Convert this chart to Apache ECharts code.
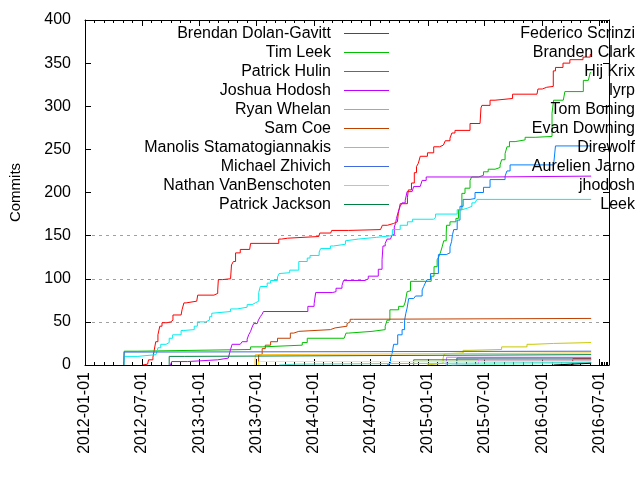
<!DOCTYPE html>
<html>
<head>
<meta charset="utf-8">
<script src="https://cdn.jsdelivr.net/npm/echarts@6/dist/echarts.min.js"></script>
<style>html,body{margin:0;padding:0;background:#fff;}#c{width:640px;height:480px;}</style>
</head>
<body>
<div id="c"></div>
<script>
const names = ['Brendan Dolan-Gavitt','Tim Leek','Patrick Hulin','Joshua Hodosh','Ryan Whelan','Sam Coe','Manolis Stamatogiannakis','Michael Zhivich','Nathan VanBenschoten','Patrick Jackson','Federico Scrinzi','Branden Clark','Hij Krix','lyrp','Tom Boning','Evan Downing','Direwolf','Aurelien Jarno','jhodosh','Leek'];
const palette = ['#ff0000','#00c000','#0080ff','#c000ff','#00eeee','#c04000','#c8c800','#4169e1','#ffc020','#008040','#c080ff','#306080','#8b0000','#408000','#ff80ff','#7fffd4','#a52a2a','#ffff00','#40e0d0','#000000'];
const yTicks = [0,50,100,150,200,250,300,350,400];

const brendan = [['2012-07-03',0],['2012-07-05',1],['2012-07-19',3],['2012-07-22',6],['2012-08-05',9],['2012-08-08',15],['2012-08-14',27],['2012-08-21',35],['2012-08-27',45],['2012-09-03',49],['2012-09-19',50],['2012-10-01',52],['2012-10-08',58],['2012-11-03',60],['2012-11-06',64],['2012-11-12',72],['2012-11-19',74],['2012-12-23',75],['2012-12-26',81],['2013-02-16',83],['2013-02-28',87],['2013-03-02',99],['2013-03-15',100],['2013-04-10',102],['2013-04-13',116],['2013-04-19',120],['2013-04-26',130],['2013-05-11',134],['2013-06-10',135],['2013-06-13',141],['2013-09-11',146],['2013-09-20',147],['2013-10-09',149],['2014-01-17',150],['2014-01-20',153],['2014-02-24',155],['2014-02-27',156],['2014-04-21',157],['2014-08-02',159],['2014-08-08',162],['2014-08-24',164],['2014-09-12',166],['2014-09-25',168],['2014-09-28',176],['2014-10-04',187],['2014-10-27',194],['2014-10-30',203],['2014-11-09',211],['2014-11-18',223],['2014-11-25',230],['2014-12-01',234],['2014-12-07',242],['2014-12-30',246],['2015-01-19',253],['2015-02-07',255],['2015-02-19',257],['2015-02-25',260],['2015-03-12',263],['2015-03-18',269],['2015-03-28',272],['2015-05-15',280],['2015-06-16',281],['2015-06-19',298],['2015-06-22',301],['2015-07-18',307],['2015-08-03',309],['2015-09-28',314],['2015-12-15',315],['2015-12-18',320],['2016-01-01',322],['2016-01-15',323],['2016-02-05',341],['2016-02-12',345],['2016-03-07',350],['2016-03-29',354],['2016-05-10',357],['2016-06-02',360],['2016-06-05',360]];
const timLeek = [['2012-05-04',0],['2012-05-05',16],['2012-06-18',18],['2013-06-13',21],['2013-07-20',23],['2013-11-25',26],['2013-12-11',31],['2014-04-08',33],['2014-04-14',37],['2014-04-22',39],['2014-07-06',41],['2014-08-17',45],['2014-08-23',52],['2014-09-01',64],['2014-09-29',68],['2014-10-15',70],['2014-10-20',73],['2014-10-26',85],['2014-10-31',86],['2014-11-06',97],['2015-01-11',103],['2015-01-20',114],['2015-01-30',122],['2015-02-05',126],['2015-02-10',131],['2015-02-15',137],['2015-02-20',144],['2015-02-28',153],['2015-03-01',162],['2015-03-12',166],['2015-03-31',170],['2015-04-08',180],['2015-04-19',199],['2015-04-29',205],['2015-05-15',214],['2015-05-20',218],['2015-06-11',220],['2015-06-27',224],['2015-07-12',227],['2015-08-03',229],['2015-08-19',232],['2015-08-24',238],['2015-09-04',245],['2015-09-10',253],['2015-09-18',259],['2015-10-06',261],['2015-11-07',264],['2015-12-09',265],['2016-02-01',292],['2016-02-06',307],['2016-03-08',309],['2016-03-13',317],['2016-05-11',330],['2016-05-27',332],['2016-06-02',339],['2016-06-05',339]];
const patrickHulin = [['2014-08-23',0],['2014-08-24',2],['2014-09-03',8],['2014-09-08',13],['2014-09-13',24],['2014-09-26',35],['2014-10-10',41],['2014-10-18',52],['2014-10-22',60],['2014-10-26',66],['2014-10-31',77],['2014-11-16',78],['2014-11-22',80],['2014-12-13',87],['2014-12-18',91],['2014-12-23',95],['2014-12-29',99],['2015-01-09',106],['2015-02-03',128],['2015-02-28',130],['2015-03-12',137],['2015-03-17',143],['2015-03-20',151],['2015-03-24',157],['2015-04-04',168],['2015-04-13',184],['2015-04-23',192],['2015-05-15',193],['2015-05-31',200],['2015-06-27',206],['2015-07-18',215],['2015-09-04',219],['2015-09-10',225],['2015-09-20',232],['2016-02-06',233],['2016-02-12',254],['2016-06-05',254]];
const joshuaHodosh = [['2012-09-30',0],['2012-10-01',1],['2012-10-04',4],['2012-11-24',6],['2013-02-28',8],['2013-04-03',9],['2013-04-07',14],['2013-04-10',18],['2013-04-15',24],['2013-05-11',25],['2013-05-17',27],['2013-06-02',30],['2013-06-07',35],['2013-06-13',39],['2013-06-18',44],['2013-06-23',48],['2013-07-04',50],['2013-07-08',52],['2013-07-14',56],['2013-07-20',59],['2013-07-24',62],['2013-12-13',68],['2014-01-02',71],['2014-01-07',84],['2014-03-01',85],['2014-03-13',89],['2014-04-01',92],['2014-04-06',98],['2014-06-14',100],['2014-06-24',103],['2014-07-26',111],['2014-08-07',122],['2014-08-10',138],['2014-08-17',141],['2014-08-23',146],['2014-09-03',147],['2014-09-08',151],['2014-09-15',160],['2014-09-19',164],['2014-09-22',170],['2014-09-28',178],['2014-10-04',184],['2014-10-10',188],['2014-10-20',191],['2014-10-26',201],['2014-11-11',203],['2014-11-16',207],['2014-12-07',209],['2014-12-13',214],['2014-12-26',218],['2015-07-27',219],['2016-06-05',219]];
const ryanWhelan = [['2012-05-04',0],['2012-05-05',10],['2012-06-18',12],['2012-08-15',14],['2012-08-21',20],['2012-08-30',24],['2012-09-16',26],['2012-09-26',31],['2012-10-07',35],['2012-11-03',40],['2012-11-10',41],['2012-12-15',45],['2012-12-25',50],['2013-01-20',52],['2013-02-02',56],['2013-02-09',60],['2013-02-12',62],['2013-04-10',65],['2013-05-01',67],['2013-06-02',70],['2013-06-18',72],['2013-06-28',74],['2013-07-09',84],['2013-07-14',91],['2013-08-05',95],['2013-08-16',98],['2013-09-07',102],['2013-09-12',106],['2013-09-17',107],['2013-10-16',110],['2013-11-14',120],['2013-12-11',124],['2013-12-20',127],['2014-01-18',131],['2014-01-23',135],['2014-02-23',138],['2014-03-05',140],['2014-04-12',144],['2014-04-17',146],['2014-05-23',148],['2014-07-20',150],['2014-09-09',157],['2014-10-04',162],['2014-10-27',166],['2014-11-12',169],['2015-01-18',171],['2015-01-25',175],['2015-04-04',180],['2015-04-19',182],['2015-05-08',184],['2015-05-21',188],['2015-05-31',189],['2015-06-06',192],['2016-06-05',192]];
const samCoe = [['2013-07-08',0],['2013-07-09',12],['2013-07-20',19],['2013-07-30',23],['2013-08-16',27],['2013-09-07',31],['2013-10-18',37],['2013-10-29',39],['2013-11-14',41],['2014-02-23',43],['2014-03-10',45],['2014-04-17',48],['2014-04-22',50],['2014-04-27',53],['2014-05-08',54],['2016-06-05',54]];
const manolis = [['2014-12-28',0],['2014-12-29',2],['2015-02-18',8],['2015-02-22',13],['2015-02-25',14],['2015-04-23',17],['2015-05-15',18],['2015-08-24',21],['2015-11-13',24],['2015-12-02',25],['2016-02-06',26],['2016-06-05',26]];
const michaelZhivich = [['2012-05-04',0],['2012-05-05',15],['2012-06-15',16],['2016-06-05',16]];
const nathan = [['2013-06-27',0],['2013-06-27',2],['2013-06-28',12],['2013-07-08',14],['2016-06-05',14]];
const patrickJackson = [['2012-09-26',0],['2012-09-26',10],['2012-11-13',12],['2016-06-05',12]];
const federico = [['2015-02-28',0],['2015-03-01',9],['2016-06-05',9]];
const brandenClark = [['2015-04-03',0],['2015-04-03',8],['2016-06-05',8]];
const hijKrix = [['2016-04-07',0],['2016-04-07',7],['2016-06-05',7]];
const lyrp = [['2014-11-16',0],['2014-11-16',6],['2016-06-05',6]];
const tomBoning = [['2015-03-17',0],['2015-03-17',1],['2015-06-11',6],['2016-06-05',6]];
const evanDowning = [['2015-02-27',0],['2015-02-27',2],['2016-06-05',2]];
const direwolf = [['2016-04-07',0],['2016-04-08',3],['2016-06-05',3]];
const aurelien = [['2013-07-08',0],['2013-07-09',4],['2016-06-05',4]];
const jhodosh = [['2013-09-12',0],['2013-09-12',1],['2013-11-08',3],['2016-06-05',3]];
const leek = [['2016-02-06',0],['2016-02-06',2],['2016-06-05',2]];

const seriesData = [brendan,timLeek,patrickHulin,joshuaHodosh,ryanWhelan,samCoe,manolis,michaelZhivich,nathan,patrickJackson,federico,brandenClark,hijKrix,lyrp,tomBoning,evanDowning,direwolf,aurelien,jhodosh,leek];

const FONT = 'Liberation Sans';
const gridColors = yTicks.map(v => (v >= 50 && v <= 150) ? '#a0a0a0' : 'rgba(0,0,0,0)');
const DAY = 86400000;

const chart = echarts.init(document.getElementById('c'), null, {renderer:'canvas'});
const legendCommon = {
  orient:'vertical', align:'right', itemWidth:45, itemHeight:19, itemGap:0, padding:0,
  selectedMode:false, icon:'path://M0,9L45,9L45,10L0,10Z',
  textStyle:{fontFamily:FONT, fontSize:16, color:'#000', lineHeight:19, padding:[0,8,0,0]}
};
const timeAxisCommon = {
  type:'time', min:'2012-01-01', max:'2016-08-01',
  minInterval: 180*DAY, maxInterval: 184*DAY,
  axisLine:{show:true, onZero:false, lineStyle:{color:'#000', width:1}},
  axisTick:{show:true, inside:true, length:6, lineStyle:{color:'#000'}},
  minorTick:{show:true, splitNumber:6, length:3, lineStyle:{color:'#000'}},
  splitLine:{show:false}, minorSplitLine:{show:false}
};
const option = {
  animation:false,
  backgroundColor:'#fff',
  grid:{left:84, right:31, top:20, bottom:115, containLabel:false},
  legend:[
    Object.assign({}, legendCommon, {data:names.slice(0,10).map((n,i)=>({name:n, itemStyle:{color:palette[i]}})), right:251, top:24}),
    Object.assign({}, legendCommon, {data:names.slice(10).map((n,i)=>({name:n, itemStyle:{color:palette[i+10]}})), right:-53, top:24})
  ],
  xAxis:[
    Object.assign({}, timeAxisCommon, {position:'bottom',
      axisLabel:{show:true, rotate:90, formatter:'{yyyy}-{MM}-{dd}', fontFamily:FONT, fontSize:16, color:'#000', margin:7, hideOverlap:false, showMinLabel:true, showMaxLabel:false}}),
    Object.assign({}, timeAxisCommon, {position:'top', axisLabel:{show:false}})
  ],
  yAxis:[
    {type:'value', position:'left', min:0, max:400, interval:50,
      name:'Commits', nameLocation:'middle', nameGap:62, nameRotate:90,
      nameTextStyle:{fontFamily:FONT, fontSize:15, color:'#000'},
      axisLine:{show:true, lineStyle:{color:'#000'}},
      axisTick:{show:true, inside:true, length:6, lineStyle:{color:'#000'}},
      axisLabel:{fontFamily:FONT, fontSize:16, color:'#000', margin:14},
      splitLine:{show:true, lineStyle:{color:gridColors, type:[3,4], width:1}}},
    {type:'value', position:'right', min:0, max:400, interval:50,
      axisLine:{show:true, lineStyle:{color:'#000'}},
      axisTick:{show:true, inside:true, length:6, lineStyle:{color:'#000'}},
      axisLabel:{show:false}, splitLine:{show:false}}
  ],
  series: names.map((n,i)=>({
    name:n, type:'line', step:'end', symbol:'none', showSymbol:false,
    xAxisIndex:0, yAxisIndex:0,
    data:seriesData[i],
    color:palette[i],
    lineStyle:{color:palette[i], width:1},
    emphasis:{disabled:true}
  }))
};
chart.setOption(option);
</script>
</body>
</html>
